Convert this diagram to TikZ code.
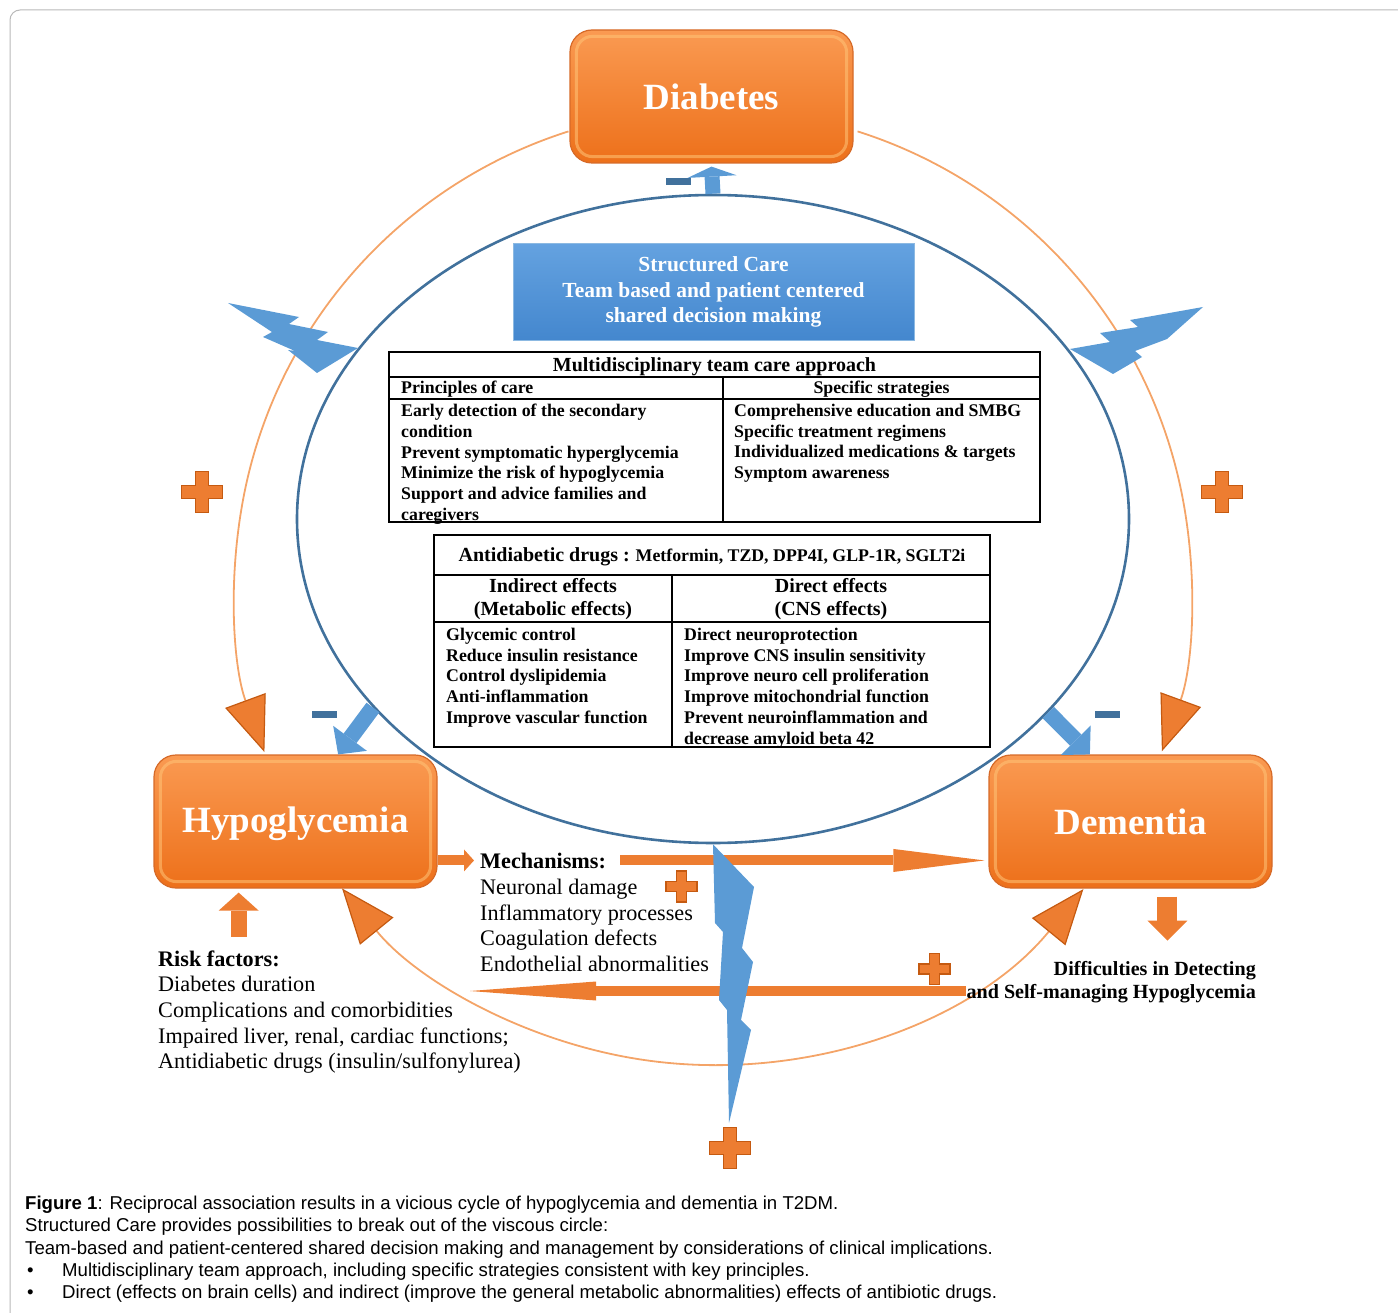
\documentclass[tikz,border=0pt]{standalone}
\usepackage{fontspec}
\setmainfont{Liberation Serif}
\newfontfamily\capfont{Liberation Sans}
\usetikzlibrary{arrows.meta, positioning, calc, shapes.geometric}
\definecolor{cycleorange}{RGB}{244,164,104}
\definecolor{tiporange}{RGB}{237,125,49}
\definecolor{tipedge}{RGB}{197,90,17}
\definecolor{boxtop}{RGB}{250,154,82}
\definecolor{boxbottom}{RGB}{237,112,26}
\definecolor{boxedge}{RGB}{214,106,40}
\definecolor{boxglow}{RGB}{255,196,120}
\definecolor{ringblue}{RGB}{65,113,156}
\definecolor{boltblue}{RGB}{91,155,213}
\definecolor{caretop}{RGB}{100,162,224}
\definecolor{carebottom}{RGB}{68,135,206}
\definecolor{framegray}{RGB}{185,185,185}
\tikzset{
  mainbox/.style={draw=boxedge, line width=1.2pt, rounded corners=22pt,
    top color=boxtop, bottom color=boxbottom, inner sep=0pt,
    minimum width=283pt, minimum height=133pt},
  boxlabel/.style={text=white, inner sep=0pt, font=\fontsize{37}{40}\selectfont\bfseries},
  glow/.style={draw=boxglow, line width=3pt, draw opacity=0.55, rounded corners=16pt},
  carebox/.style={draw=boltblue!70!white, line width=0.8pt, top color=caretop,
    bottom color=carebottom, text=white, align=center, inner sep=0pt,
    minimum width=401pt, minimum height=97pt,
    font=\fontsize{21.5}{25.5}\selectfont\bfseries},
  cyclearc/.style={draw=cycleorange, line width=1.8pt},
  cycletip/.style={-{Triangle[length=55pt,width=43pt,color=tipedge,fill=tiporange,line width=1.2pt]}},
  cycletips/.style={{Triangle[length=55pt,width=43pt,color=tipedge,fill=tiporange,line width=1.2pt]}-{Triangle[length=55pt,width=43pt,color=tipedge,fill=tiporange,line width=1.2pt]}},
  bluearrow/.style={draw=boltblue, line width=16pt, -{Triangle[length=20pt,width=42pt,line width=0pt]}},
  orangearrow/.style={draw=tiporange, line width=10pt},
  bolt/.style={fill=boltblue, draw=none},
  minusbar/.style={fill=ringblue, inner sep=0pt, minimum width=25pt, minimum height=7pt},
  tabline/.style={line width=1.6pt},
  tabhead/.style={inner sep=0pt, font=\fontsize{20}{23}\selectfont\bfseries},
  tabtext/.style={inner sep=0pt, font=\fontsize{17.8}{20.7}\selectfont\bfseries},
  tablist/.style={tabtext, align=left, anchor=north west},
  plaintext/.style={inner sep=0pt, font=\fontsize{22.2}{25.5}\selectfont},
  plusmark/.pic={\draw[draw=tipedge, fill=tiporange, line width=1.4pt]
    (-6.7,-20.5) -- (6.7,-20.5) -- (6.7,-6.7) -- (20.5,-6.7) -- (20.5,6.7) -- (6.7,6.7)
    -- (6.7,20.5) -- (-6.7,20.5) -- (-6.7,6.7) -- (-20.5,6.7) -- (-20.5,-6.7) -- (-6.7,-6.7) -- cycle;}
}
\begin{document}
\begin{tikzpicture}[x=1pt, y=-1pt]
\useasboundingbox (0,0) rectangle (1398,1313);
%frame
\draw[framegray, line width=1pt, rounded corners=10pt] (10,1340) -- (10,10) -- (1420,10);

%vicious circle
\coordinate (cyc) at (713,587);
\draw[cyclearc, cycletip] ($(cyc)+(-107.6:478)$) arc[start angle=-107.6, end angle=-200.2, radius=478];
\draw[cyclearc, cycletip] ($(cyc)+(-72.4:478)$) arc[start angle=-72.4, end angle=20.1, radius=478];
\draw[cyclearc, cycletips] ($(cyc)+(39.2:478)$) arc[start angle=39.2, end angle=140.9, radius=478];

%structured care ring
\node[draw=ringblue, line width=2.6pt, ellipse, inner sep=0pt,
  minimum width=832pt, minimum height=648pt] (ring) at (713,519) {};

%main boxes
\node[mainbox] (diabetes) at (711.5,96.5) {};
\node[mainbox] (hypo) at (295.5,821.5) {};
\node[mainbox] (dementia) at (1130.5,821.5) {};
\foreach \b in {diabetes,hypo,dementia}
  \draw[glow] ($(\b.north west)+(7,7)$) rectangle ($(\b.south east)+(-7,-7)$);
\node[boxlabel] (diabetestext) at (diabetes) {Diabetes};
\node[boxlabel] (hypotext) at ($(hypo)+(0,2)$) {Hypoglycemia};
\node[boxlabel] (dementiatext) at (dementia) {Dementia};

\node[carebox] (care) at (713.5,292) {Structured Care\\Team based and patient centered\\shared decision making};

%team table
\draw[tabline] (389,352) rectangle (1040,522);
\draw[tabline] (389,377) -- (1040,377);
\draw[tabline] (389,399) -- (1040,399);
\draw[tabline] (723,377) -- (723,522);
\node[tabhead] (teamhead) at (714.5,366.5) {Multidisciplinary team care approach};
\node[tabtext, anchor=west] (principles) at (401,389) {Principles of care};
\node[tabtext] (strategies) at (881.5,389) {Specific strategies};
\node[tablist] (principlelist) at (401,404) {Early detection of the secondary\\condition\\Prevent symptomatic hyperglycemia\\Minimize the risk of hypoglycemia\\Support and advice families and\\caregivers};
\node[tablist] (strategylist) at (734,404) {Comprehensive education and SMBG\\Specific treatment regimens\\Individualized medications \& targets\\Symptom awareness};

%drug table
\draw[tabline] (434,535) rectangle (990,747);
\draw[tabline] (434,575) -- (990,575);
\draw[tabline] (434,622) -- (990,622);
\draw[tabline] (672,575) -- (672,747);
\node[tabtext] (drughead) at (712,557) {{\fontsize{20}{23}\selectfont Antidiabetic drugs :} Metformin, TZD, DPP4I, GLP-1R, SGLT2i};
\node[tabhead, align=center] (indirect) at (553,599.5) {Indirect effects\\(Metabolic effects)};
\node[tabhead, align=center] (direct) at (831,599.5) {Direct effects\\(CNS effects)};
\node[tablist] (indirectlist) at (446,628) {Glycemic control\\Reduce insulin resistance\\Control dyslipidemia\\Anti-inflammation\\Improve vascular function};
\node[tablist] (directlist) at (684,628) {Direct neuroprotection\\Improve CNS insulin sensitivity\\Improve neuro cell proliferation\\Improve mitochondrial function\\Prevent neuroinflammation and\\decrease amyloid beta 42};

%mechanisms and risk factors
\node[plaintext, font=\fontsize{22.2}{25.5}\selectfont\bfseries, anchor=base west] (mechtitle) at (480,868) {Mechanisms:};
\node[plaintext, align=left, anchor=north west] (mechlist) at ($(mechtitle.base west)+(0,11)$) {Neuronal damage\\Inflammatory processes\\Coagulation defects\\Endothelial abnormalities};
\node[plaintext, font=\fontsize{22.2}{25.5}\selectfont\bfseries, anchor=base west] (risktitle) at (158,966) {Risk factors:};
\node[plaintext, font=\fontsize{22.2}{25.7}\selectfont, align=left, anchor=north west] (risklist) at ($(risktitle.base west)+(0,10)$) {Diabetes duration\\Complications and comorbidities\\Impaired liver, renal, cardiac functions;\\Antidiabetic drugs (insulin/sulfonylurea)};
\node[inner sep=0pt, align=right, anchor=north east, font=\fontsize{20.1}{23}\selectfont\bfseries] (difficulty) at (1256,961) {Difficulties in Detecting\\and Self-managing Hypoglycemia};

%orange arrows
\draw[orangearrow, -{Triangle[length=10pt,width=22pt,line width=0pt]}] (hypo.east |- mechtitle.west) -- ([xshift=-6pt]mechtitle.west);
\draw[orangearrow, -{Triangle[length=91pt,width=23pt,line width=0pt]}] ([xshift=14pt]mechtitle.east) -- ([xshift=-4pt]dementia.west |- mechtitle.east);
\coordinate (backstart) at (966,991);
\coordinate (backend) at (470,991);
\draw[orangearrow, -{Triangle[length=126pt,width=19pt,line width=0pt]}] (backstart) -- (backend);
\coordinate (riskin) at ($(hypo.south west)!0.3!(hypo.south east)$);
\draw[orangearrow, line width=16pt, -{Triangle[length=18pt,width=40pt,line width=0pt]}] ($(riskin)+(0,48)$) -- ($(riskin)+(0,4)$);
\coordinate (demout) at ($(dementia.south west)!0.63!(dementia.south east)$);
\draw[orangearrow, line width=20pt, -{Triangle[length=20pt,width=40pt,line width=0pt]}] ($(demout)+(0,8)$) -- ($(demout)+(0,52)$);

%blue arrows out of the ring
\draw[bluearrow, line width=15pt, -{Triangle[length=10pt,width=49pt,line width=0pt]}] (ring.north) -- ($(diabetes.south)+(0,3)$);
\draw[bluearrow] (ring.209) -- ($(hypo.north west)!0.65!(hypo.north east)$);
\draw[bluearrow] (ring.330) -- ($(dementia.north west)!0.357!(dementia.north east)$);

%lightning
\fill[bolt] (228,303) -- (299,317) -- (289,324) -- (328,332) -- (317,340) -- (358,348)
  -- (317,373) -- (288,350) -- (295,351) -- (263,337) -- (272,332) -- cycle;
\fill[bolt] (1070,349) -- (1110,342) -- (1100,333) -- (1138,327) -- (1130,320) -- (1203,307)
  -- (1167,339) -- (1135,351) -- (1142,357) -- (1113,374) -- cycle;
\fill[bolt] (ring.south) -- (754,887) -- (742,948) -- (753,962) -- (741,1020) -- (751,1030)
  -- (729,1123) -- (727,1010) -- (719,1000) -- (723,932) -- (715,923) -- cycle;

%signs
\node[minusbar] (minusdia) at (678,182) {};
\node[minusbar] (minushypo) at (324.5,714.5) {};
\node[minusbar] (minusdem) at (1107.5,714.5) {};
\pic at (202,492) {plusmark};
\pic at (1222,492) {plusmark};
\pic[scale=0.75] at (681.5,886.5) {plusmark};
\pic[scale=0.75] at (934.5,969) {plusmark};
\pic at (730,1148) {plusmark};

%caption
\node[inner sep=0pt, anchor=north west, align=left, font=\capfont\fontsize{18.6}{22.2}\selectfont] (caption) at (25,1196)
  {\textbf{Figure 1}: Reciprocal association results in a vicious cycle of hypoglycemia and dementia in T2DM.\\
   Structured Care provides possibilities to break out of the viscous circle:\\
   Team-based and patient-centered shared decision making and management by considerations of clinical implications.\\
   \makebox[37pt][l]{\hspace{2pt}•}Multidisciplinary team approach, including specific strategies consistent with key principles.\\
   \makebox[37pt][l]{\hspace{2pt}•}Direct (effects on brain cells) and indirect (improve the general metabolic abnormalities) effects of antibiotic drugs.};
\end{tikzpicture}
\end{document}
